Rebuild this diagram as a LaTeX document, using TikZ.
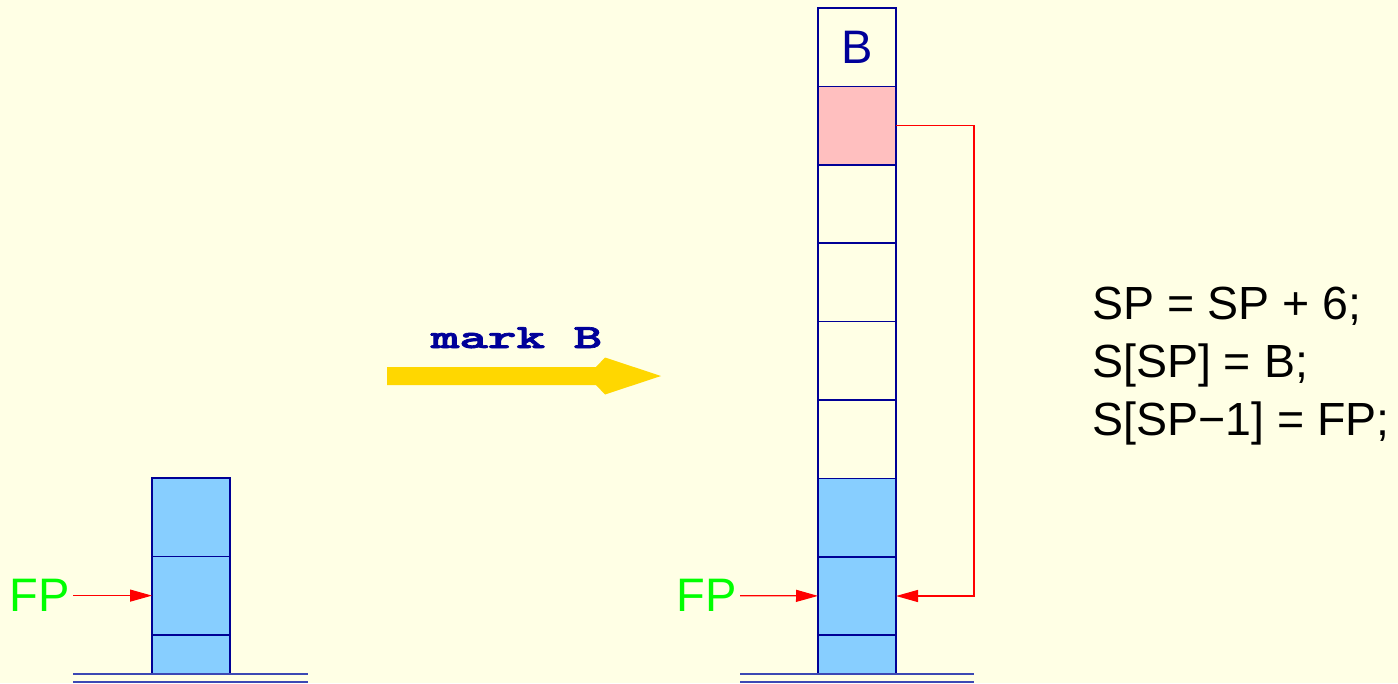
\documentclass[tikz,border=0pt]{standalone}
\usepackage{fontspec}
\setmainfont{Liberation Sans}
\newfontfamily\markfont[Extension=.otf, FakeBold=2]{lmmonolt10-bold}
\usepackage{tikz}
\usetikzlibrary{arrows.meta}
\definecolor{paper}{RGB}{255,255,229}
\definecolor{stackline}{RGB}{0,0,150}
\definecolor{stackblue}{RGB}{135,206,255}
\definecolor{stackpink}{RGB}{255,191,191}
\definecolor{groundblue}{RGB}{60,72,180}
\definecolor{markgold}{RGB}{255,215,0}
\definecolor{fpgreen}{RGB}{0,255,0}
\definecolor{codeblue}{RGB}{0,0,153}

\tikzset{
  cell/.style={draw=stackline, line width=1.5pt, minimum width=78pt, minimum height=78.4pt, inner sep=0pt, outer sep=0pt},
  halfcell/.style={cell, minimum height=38.3pt},
  ptr/.style={red, line width=1.2pt, -{Triangle[length=22pt,width=12pt]}},
  ground/.style={groundblue, line width=2pt},
  fplabel/.style={fpgreen, font=\fontsize{47}{56}\selectfont, inner sep=3pt}
}

\begin{document}
\begin{tikzpicture}[x=1pt,y=-1pt]
  \fill[paper] (0,0) rectangle (1398,683);
  \useasboundingbox (0,0) rectangle (1398,683);

  \node (l1) at (191,517.2) [cell, fill=stackblue] {};
  \node (l2) at (191,595.6) [cell, fill=stackblue] {};
  \node (l3) at (191,654.35) [halfcell, fill=stackblue] {};
  \draw[ground] (73,673.5) -- (308,673.5) (73,681.5) -- (308,681.5);
  \node (fpl) at (73,595.6) [fplabel, anchor=east] {FP};
  \draw[ptr] (fpl) -- (l2);

  \coordinate (m0) at (387,376);
  \coordinate (m1) at (661,376);
  \fill[markgold] (m0) ++(0,-9) -- ++(209,0) -- ++(9,-9.5) -- (m1)
    -- ++(-56,18.5) -- ++(-9,-9.5) -- ++(-209,0) -- cycle;
  \node (mark) at (516.5,348) [anchor=base, text=codeblue, xscale=1.6,
    font=\markfont\fontsize{34}{40}\selectfont] {mark B};

  \node (r1) at (857,47.2) [cell, text=codeblue, font=\fontsize{47}{56}\selectfont] {B};
  \foreach \i/\c in {2/stackpink,3/none,4/none,5/none,6/none,7/stackblue,8/stackblue}
    \node (r\i) at (857,{47.2+78.4*(\i-1)}) [cell, fill=\c] {};
  \node (r9) at (857,654.35) [halfcell, fill=stackblue] {};
  \draw[ground] (740,673.5) -- (974,673.5) (740,681.5) -- (974,681.5);
  \node (fpr) at (740,595.6) [fplabel, anchor=east] {FP};
  \draw[ptr] (fpr) -- (r8);
  \draw[ptr] (r2.east) -- ++(78,0) |- (r8.east);

  \node (code) at (1092,287) [anchor=north west, inner sep=0pt, align=left,
    font=\fontsize{46.5}{58}\selectfont] {SP = SP + 6;\\S[SP] = B;\\S[SP−1] = FP;};
\end{tikzpicture}
\end{document}
